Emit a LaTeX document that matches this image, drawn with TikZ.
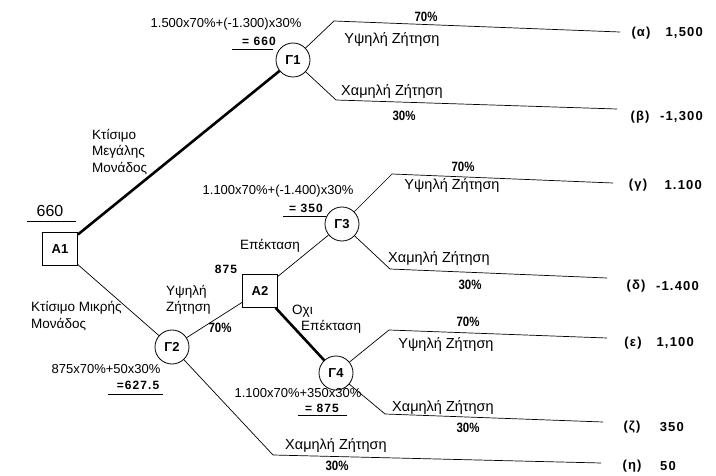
\documentclass[tikz,border=0pt]{standalone}
\usepackage{fontspec}
\setmainfont{Liberation Sans}
\newfontfamily\condb[FakeStretch=0.85]{Liberation Sans}
\newfontfamily\numf[LetterSpace=9]{Liberation Sans}
\begin{document}
\begin{tikzpicture}[x=1pt,y=-1pt,
  every node/.style={inner sep=0pt},
  sq/.style={draw,line width=0.8pt,minimum width=35pt,minimum height=33pt,font=\fontsize{13}{13}\selectfont\bfseries},
  circ/.style={draw,circle,line width=0.8pt,minimum size=34pt,font=\fontsize{13}{13}\selectfont\bfseries},
  thin/.style={line width=0.7pt},
  thick/.style={line width=2.6pt},
  pct/.style={font=\condb\fontsize{13.5}{13}\selectfont\bfseries},
  outc/.style={font=\numf\fontsize{13}{13}\selectfont\bfseries},
  lbl/.style={font=\fontsize{14.5}{16}\selectfont},
  slbl/.style={font=\fontsize{13.5}{16.5}\selectfont},
  calc/.style={font=\fontsize{13}{13}\selectfont},
  res/.style={font=\numf\fontsize{12}{13}\selectfont\bfseries}
]
\useasboundingbox (0,0) rectangle (716,476);

% decision and chance nodes
\node[sq] (A1) at (60,249) {A1};
\node[sq] (A2) at (260,291) {A2};
\node[circ] (G1) at (293,60) {Γ1};
\node[circ] (G2) at (172,347) {Γ2};
\node[circ] (G3) at (342,224) {Γ3};
\node[circ] (G4) at (336,373) {Γ4};

% branch corners and ends
\coordinate (c1a) at (334,21);  \coordinate (e1a) at (620,32);
\coordinate (c1b) at (336,100); \coordinate (e1b) at (617,109);
\coordinate (c3a) at (392,174); \coordinate (e3a) at (613,183);
\coordinate (c3b) at (390,269); \coordinate (e3b) at (607,278);
\coordinate (c4a) at (389,330); \coordinate (e4a) at (607,338);
\coordinate (c4b) at (385,414); \coordinate (e4b) at (603,422);
\coordinate (c2b) at (273,455); \coordinate (e2b) at (601,463);

% connectors
\draw[thick] (A1) -- (G1);
\draw[thin] (A1) -- (G2);
\draw[thin] (G2) -- (A2);
\draw[thin] (A2) -- (G3);
\draw[thick] (A2) -- (G4);
\draw[thin] (G1) -- (c1a) -- (e1a);
\draw[thin] (G1) -- (c1b) -- (e1b);
\draw[thin] (G3) -- (c3a) -- (e3a);
\draw[thin] (G3) -- (c3b) -- (e3b);
\draw[thin] (G4) -- (c4a) -- (e4a);
\draw[thin] (G4) -- (c4b) -- (e4b);
\draw[thin] (G2) -- (c2b) -- (e2b);

% branch labels
\node[pct] (p1a) at (426,17) {70\%};
\node[lbl] (l1a) at (392,40) {Υψηλή Ζήτηση};
\node[lbl] (l1b) at (392,92) {Χαμηλή Ζήτηση};
\node[pct] (p1b) at (404,116) {30\%};

\node[pct] (p3a) at (463,167) {70\%};
\node[lbl] (l3a) at (452,186) {Υψηλή Ζήτηση};
\node[lbl] (l3b) at (439,259) {Χαμηλή Ζήτηση};
\node[pct] (p3b) at (470,285) {30\%};

\node[pct] (p4a) at (468,322) {70\%};
\node[lbl] (l4a) at (446,345) {Υψηλή Ζήτηση};
\node[lbl] (l4b) at (443,408) {Χαμηλή Ζήτηση};
\node[pct] (p4b) at (468,428) {30\%};

\node[lbl] (l2b) at (336,446) {Χαμηλή Ζήτηση};
\node[pct] (p2b) at (337,466) {30\%};

\node[slbl,align=left,anchor=west] (big) at (92,152) {Κτίσιμο\\Μεγάλης\\Μονάδος};
\node[slbl,align=left,anchor=west] (small) at (31,316) {Κτίσιμο Μικρής\\Μονάδος};
\node[slbl,align=left,anchor=west] (hi2) at (166,300) {Υψηλή\\Ζήτηση};
\node[pct] (p2a) at (220,328) {70\%};
\node[res] (v875) at (226,269) {875};
\node[slbl] (ep) at (270,246) {Επέκταση};
\node[slbl,align=left,anchor=west] (noep) at (292,319) {Οχι\\\hspace*{9pt}Επέκταση};

% expected value calculations
\node[calc] (f1) at (226,24) {1.500x70\%+(-1.300)x30\%};
\node[res] (r1) at (259,41) {= 660};
\coordinate (u1a) at (232,49); \coordinate (u1b) at (273,49);
\draw[thin] (u1a) -- (u1b);

\node[calc] (f3) at (278,191) {1.100x70\%+(-1.400)x30\%};
\node[res] (r3) at (306,208) {= 350};
\coordinate (u3a) at (283,216); \coordinate (u3b) at (326,216);
\draw[thin] (u3a) -- (u3b);

\node[calc] (f4) at (298,393) {1.100x70\%+350x30\%};
\node[res] (r4) at (322,408) {= 875};
\coordinate (u4a) at (298,415); \coordinate (u4b) at (347,415);
\draw[thin] (u4a) -- (u4b);

\node[calc] (f2) at (106,369) {875x70\%+50x30\%};
\node[res] (r2) at (138,385) {=627.5};
\coordinate (u2a) at (108,394); \coordinate (u2b) at (163,394);
\draw[thin] (u2a) -- (u2b);

\node[font=\fontsize{16}{16}\selectfont] (v660) at (50,211) {660};
\coordinate (u0a) at (27,221); \coordinate (u0b) at (76,221);
\draw[thin] (u0a) -- (u0b);

% outcomes
\node[outc] (o1l) at (641,33) {(α)};  \node[outc,anchor=east] (o1v) at (703,33) {1,500};
\node[outc] (o2l) at (640,117) {(β)}; \node[outc,anchor=east] (o2v) at (703,117) {-1,300};
\node[outc] (o3l) at (638,185) {(γ)}; \node[outc,anchor=east] (o3v) at (702,185) {1.100};
\node[outc] (o4l) at (636,286) {(δ)}; \node[outc,anchor=east] (o4v) at (699,286) {-1.400};
\node[outc] (o5l) at (633,343) {(ε)}; \node[outc,anchor=east] (o5v) at (694,343) {1,100};
\node[outc] (o6l) at (632,427) {(ζ)}; \node[outc,anchor=east] (o6v) at (684,427) {350};
\node[outc] (o7l) at (632,466) {(η)}; \node[outc,anchor=east] (o7v) at (676,466) {50};
\end{tikzpicture}
\end{document}
